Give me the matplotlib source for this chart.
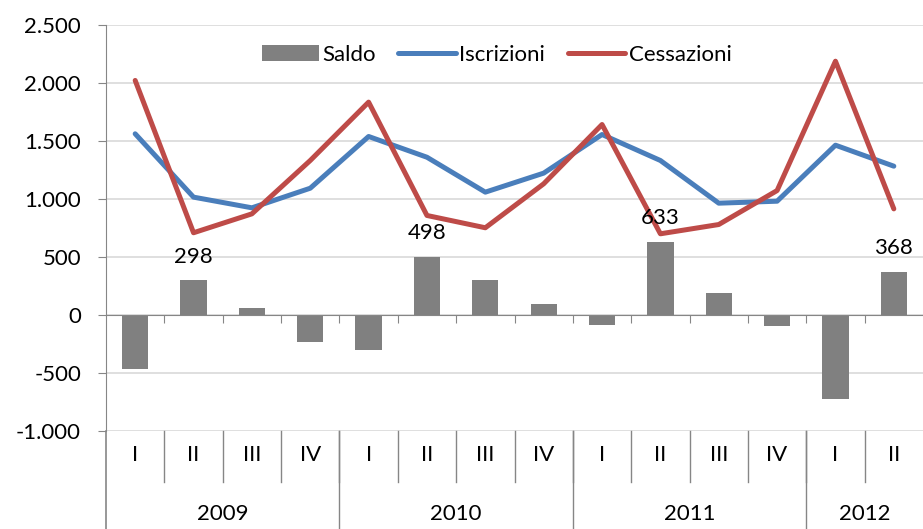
import matplotlib

matplotlib.use("Agg")

import matplotlib.pyplot as plt
import numpy as np
from matplotlib.ticker import FuncFormatter

plt.rcParams["font.family"] = ["Lato", "DejaVu Sans"]

# data
years = ["2009", "2010", "2011", "2012"]
quarters = ["I", "II", "III", "IV", "I", "II", "III", "IV", "I", "II", "III", "IV", "I", "II"]
quarters_per_year = [4, 4, 4, 2]
saldo = [-464, 298, 59, -234, -306, 498, 306, 96, -90, 633, 188, -99, -728, 368]
iscrizioni = [1562, 1016, 924, 1093, 1539, 1360, 1059, 1223, 1556, 1332, 964, 981, 1464, 1283]
cessazioni = [2022, 709, 872, 1332, 1835, 858, 752, 1131, 1642, 700, 780, 1073, 2188, 915]
labelled = {1, 5, 9, 13}

GRAY_BAR = "#808080"
BLUE = "#4a7ebb"
RED = "#be4b48"
GRID = "#d9d9d9"
AXIS = "#868686"
FS = 16

fig = plt.figure(figsize=(9.23, 5.29), dpi=100)
ax = fig.add_axes([106 / 923, 98 / 529, 817 / 923, 406 / 529])

x = np.arange(len(quarters))
h_bar = ax.bar(x, saldo, width=0.45, color=GRAY_BAR, label="Saldo", zorder=2)
(h_isc,) = ax.plot(x, iscrizioni, color=BLUE, lw=3.6, label="Iscrizioni", zorder=3,
                   solid_joinstyle="round", solid_capstyle="round")
(h_ces,) = ax.plot(x, cessazioni, color=RED, lw=3.6, label="Cessazioni", zorder=4,
                   solid_joinstyle="round", solid_capstyle="round")

for i in labelled:
    ax.annotate(f"{saldo[i]}", (x[i], saldo[i]), xytext=(0, 10),
                textcoords="offset points", ha="center", va="bottom", fontsize=FS,
                zorder=6)

ax.set_xlim(-0.5, len(quarters) - 0.5)
ax.set_ylim(-1000, 2500)
ax.set_yticks(np.arange(-1000, 2501, 500))
ax.yaxis.set_major_formatter(FuncFormatter(lambda v, _: f"{v:,.0f}".replace(",", ".")))
ax.yaxis.grid(True, color=GRID, lw=1.2, zorder=0)
ax.set_axisbelow(True)

for s in ("top", "right"):
    ax.spines[s].set_visible(False)
ax.spines["left"].set_color(AXIS)
ax.spines["bottom"].set_position(("data", 0))
ax.spines["bottom"].set_color(AXIS)
ax.tick_params(axis="y", colors=AXIS, labelcolor="black", labelsize=FS, length=6, pad=12)
ax.set_xticks(np.arange(0.5, len(quarters) - 0.5))
ax.set_xticklabels([])
ax.tick_params(axis="x", colors=AXIS, length=6, direction="out")

# category axis below the plot: quarters, then years
tr = ax.get_xaxis_transform()
for i, q in enumerate(quarters):
    ax.text(x[i], -0.06, q, transform=tr, ha="center", va="center", fontsize=FS)
for b in np.arange(0.5, len(quarters) - 0.5):
    ax.plot([b, b], [0, -0.125], transform=tr, color=AXIS, lw=1, clip_on=False)
ax.plot([-0.5, -0.5], [0, -0.25], transform=tr, color=AXIS, lw=1.2, clip_on=False)
start = 0
for y, n in zip(years, quarters_per_year):
    mid = start + (n - 1) / 2
    ax.text(mid, -0.205, y, transform=tr, ha="center", va="center", fontsize=FS)
    end = start + n - 0.5
    if end < len(quarters) - 0.5:
        ax.plot([end, end], [0, -0.25], transform=tr, color=AXIS, lw=1, clip_on=False)
    start += n

leg = ax.legend([h_bar, h_isc, h_ces], ["Saldo", "Iscrizioni", "Cessazioni"],
                loc="center", bbox_to_anchor=(0.478, 0.926), ncol=3, frameon=False,
                fontsize=FS, handlelength=2.6, handletextpad=0.15, columnspacing=1.0)
leg.set_zorder(7)

fig.savefig("out.png", dpi=100)
